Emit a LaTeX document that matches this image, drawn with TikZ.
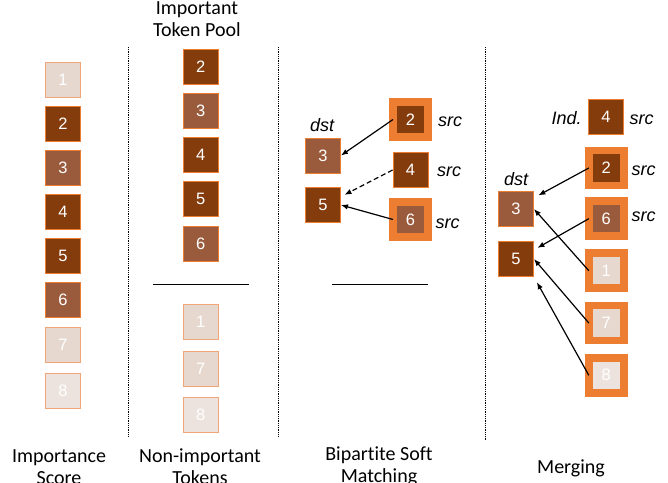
\documentclass[tikz,border=0pt]{standalone}
\usepackage{fontspec}
\setmainfont{Carlito}[Ligatures=NoCommon]
\newfontfamily\numfont{Liberation Sans}
\usepackage{tikz}
\usetikzlibrary{arrows.meta}

\definecolor{tokdark}{HTML}{843C0C}
\definecolor{tokmid}{HTML}{9A5B3D}
\definecolor{toklight}{HTML}{E6D8CF}
\definecolor{tokpale}{HTML}{EDE3DE}
\definecolor{accent}{HTML}{ED7D31}
\definecolor{accentlight}{HTML}{F2A577}

\begin{document}
\begin{tikzpicture}[
  x=1pt,y=-1pt,
  -,>={Latex[length=7pt,width=5.5pt]},semithick,
  tok/.style={rectangle,minimum size=35pt,inner sep=0pt,draw=accent,line width=0.9pt,text=white,font=\numfont\fontsize{16.5}{16.5}\selectfont},
  hi/.style={tok,fill=tokdark},
  mid/.style={tok,fill=tokmid},
  lo/.style={tok,fill=toklight,draw=accentlight},
  pale/.style={tok,fill=tokpale,draw=accentlight},
  srcframe/.style={draw=accent,line width=7.8pt,outer sep=0pt},
  tag/.style={font=\numfont\itshape\fontsize{18}{18}\selectfont,anchor=base,inner sep=0pt},
  title/.style={font=\fontsize{20}{22}\selectfont,align=center,inner sep=0pt},
  divider/.style={densely dotted,line width=0.8pt},
  splitline/.style={line width=1pt},
  link/.style={->,line width=1.2pt}]

  \useasboundingbox (0,0) rectangle (668,482);

  % captions
  \node [title] (head) at (197,19.5) {Important\\Token Pool};
  \node [title] (lab1) at (59,467) {Importance\\Score};
  \node [title] (lab2) at (200,467) {Non-important\\Tokens};
  \node [title] (lab3) at (379,466) {Bipartite Soft\\Matching};
  \node [title,anchor=base] (lab4) at (571,473) {Merging};

  \draw[divider] (128,47) -- (128,437);
  \draw[divider] (278,47) -- (278,437);
  \draw[divider] (485,47) -- (485,440);

  % importance score
  \node [lo] (i1) at (63,80) {1};
  \node [hi] (i2) at (63,124) {2};
  \node [mid] (i3) at (63,168) {3};
  \node [hi] (i4) at (63,212) {4};
  \node [hi] (i5) at (63,256) {5};
  \node [mid] (i6) at (63,300) {6};
  \node [lo] (i7) at (63,345) {7};
  \node [pale] (i8) at (63,390.5) {8};

  % token pool
  \node [hi] (p2) at (200.7,67) {2};
  \node [mid] (p3) at (200.7,110.5) {3};
  \node [hi] (p4) at (200.7,154.5) {4};
  \node [hi] (p5) at (200.7,199) {5};
  \node [mid] (p6) at (200.7,243.5) {6};
  \draw[splitline] (153,284) -- (249,284);
  \node [lo] (n1) at (200.7,322) {1};
  \node [lo] (n7) at (200.7,368.5) {7};
  \node [pale] (n8) at (200.7,415) {8};

  % matching
  \node [mid] (d3) at (323,155.5) {3};
  \node [hi] (d5) at (323,205) {5};
  \node [tag] at (322,131.5) {dst};
  \node [hi,srcframe] (s2) at (410.5,119.5) {2};
  \node [hi] (s4) at (410.5,170) {4};
  \node [mid,srcframe] (s6) at (410.5,219.5) {6};
  \node [tag] at (450,126.5) {src};
  \node [tag] at (449,176.7) {src};
  \node [tag] at (447.5,228.3) {src};
  \draw[splitline] (332,284) -- (428,284);

  \path
	(s2.west) edge[link]			(d3.east)
	(s4.west) edge[link,dashed,dash pattern=on 5pt off 3pt,shorten >=4pt]	(d5.25)
	(s6.west) edge[link]			(d5.east);

  % merging
  \node [hi] (f4) at (606,117) {4};
  \node [tag] at (566.7,124.3) {Ind.};
  \node [tag] at (641.5,124.3) {src};
  \node [mid] (g3) at (516,209) {3};
  \node [hi] (g5) at (516,259) {5};
  \node [tag] at (516,185) {dst};
  \node [hi,srcframe] (f2) at (606.3,168) {2};
  \node [mid,srcframe] (f6) at (606.3,218.7) {6};
  \node [lo,srcframe] (f1) at (606.3,270.7) {1};
  \node [lo,srcframe] (f7) at (606.3,323) {7};
  \node [pale,srcframe] (f8) at (606.3,375.3) {8};
  \node [tag] at (643.7,175) {src};
  \node [tag] at (643.7,221.7) {src};

  \path
	(f2.west) edge[link,shorten >=5pt]	(g3.32)
	(f6.west) edge[link,shorten >=4pt]	(g5.27)
	(f1.west) edge[link]			(g3.east)
	(f7.west) edge[link]			(g5.east)
	(f8.west) edge[link,shorten >=6pt]	(g5.south east);

\end{tikzpicture}
\end{document}
